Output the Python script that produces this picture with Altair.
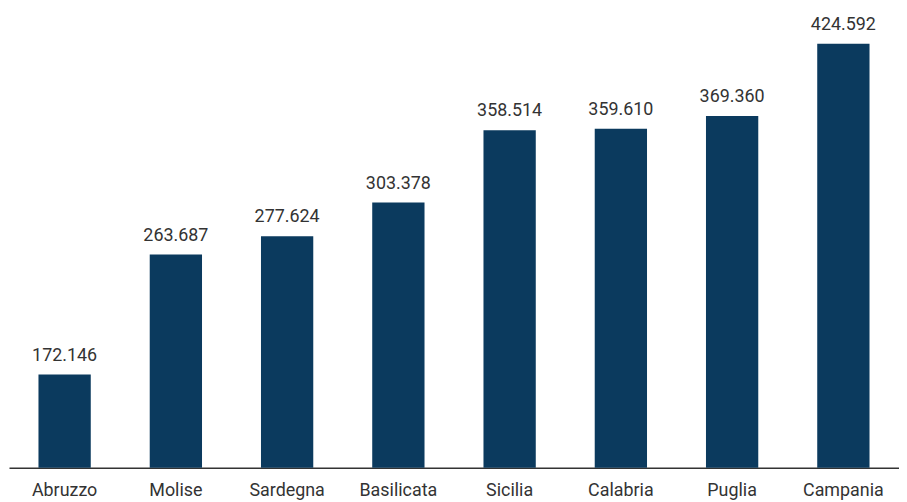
import altair as alt
import pandas as pd

regions = ["Abruzzo", "Molise", "Sardegna", "Basilicata", "Sicilia", "Calabria", "Puglia", "Campania"]
values = [172146, 263687, 277624, 303378, 358514, 359610, 369360, 424592]

df = pd.DataFrame({"region": regions, "value": values})

x = alt.X("region:N", sort=regions, title=None,
          scale=alt.Scale(paddingInner=0.53, paddingOuter=0.265),
          axis=alt.Axis(labelAngle=0, ticks=False, grid=False, labelFont="Roboto",
                        labelFontSize=18, labelColor="#333333", labelPadding=14,
                        domainColor="#333333", domainWidth=1.5))
y = alt.Y("value:Q", title=None, scale=alt.Scale(domain=[101000, 450000], zero=False, nice=False),
          axis=None)

bars = alt.Chart(df).mark_bar(color="#0b3a5e").encode(x=x, y=y, y2=alt.datum(101000))

labels = alt.Chart(df).transform_calculate(
    label="replace(format(datum.value, ','), ',', '.')"
).mark_text(font="Roboto", fontSize=18, color="#333333", baseline="alphabetic", dy=-14).encode(
    x=alt.X("region:N", sort=regions), y="value:Q", text="label:N")

chart = alt.layer(bars, labels).properties(
    width=895, height=460,
    padding={"left": 1, "top": 1, "right": 0, "bottom": 0},
).configure_view(stroke=None)

chart.save("out.html", embed_options={"renderer": "svg", "actions": False})
